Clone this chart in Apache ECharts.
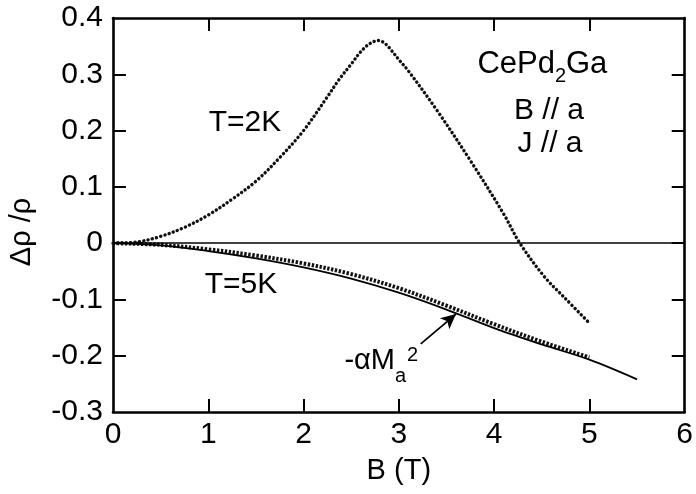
<!DOCTYPE html>
<html>
<head>
    <meta charset="utf-8">
    <title>CePd2Ga magnetoresistance</title>
    <script src="https://cdn.jsdelivr.net/npm/echarts@6/dist/echarts.min.js"></script>
</head>
<body style="margin:0;background:#fff;">
    <div id="main" style="width:696px;height:494px;"></div>
    <script>
        // T = 2K, dotted curve  [B (T), drho/rho]
        var curve2K = [
            [0, 0], [0.25, 0.002], [0.5, 0.012], [0.75, 0.028], [1, 0.05],
            [1.25, 0.078], [1.5, 0.11], [1.75, 0.152], [2, 0.2], [2.25, 0.26],
            [2.37, 0.29], [2.5, 0.318], [2.6, 0.34], [2.7, 0.355], [2.79, 0.36],
            [2.86, 0.354], [2.92, 0.343], [3, 0.326], [3.1, 0.306], [3.4, 0.236],
            [3.75, 0.147], [4.1, 0.052], [4.27, 0.0], [4.53, -0.06], [4.74, -0.097],
            [5, -0.142]
        ];
        // T = 5K, triangles
        var curve5K = [
            [0, 0], [0.5, -0.003], [1, -0.011], [1.5, -0.022], [2, -0.036],
            [2.5, -0.055], [3, -0.080], [3.5, -0.111], [4, -0.144], [4.5, -0.175],
            [5, -0.203]
        ];
        // -alpha * Ma^2, solid line
        var curveMa2 = [
            [0, 0], [0.5, -0.004], [1, -0.014], [1.5, -0.027], [2, -0.043],
            [2.5, -0.063], [3, -0.088], [3.5, -0.118], [4, -0.151], [4.5, -0.180],
            [5, -0.207], [5.5, -0.242]
        ];
        var arrowTail = [3.23, -0.179];
        var arrowHead = [3.6, -0.126];
        var xTicks = [0, 1, 2, 3, 4, 5, 6];
        var yTicks = [-0.3, -0.2, -0.1, 0, 0.1, 0.2, 0.3, 0.4];

        var FONT = '"Liberation Sans", Arial, Helvetica, sans-serif';
        var GRID = { left: 113, right: 8, top: 18, bottom: 82 };
        var W = 696, H = 494, TICK_LEN = 13;
        var chartDom = document.getElementById('main');
        var myChart = echarts.init(chartDom);
        var option;

        var xMin = xTicks[0], xMax = xTicks[xTicks.length - 1];
        var yMin = yTicks[0], yMax = yTicks[yTicks.length - 1];
        // tick length expressed in axis units so the axes place the ticks
        var dx = (xMax - xMin) * TICK_LEN / (W - GRID.left - GRID.right);
        var dy = (yMax - yMin) * TICK_LEN / (H - GRID.top - GRID.bottom);

        function tickFmt(v) {
            if (Math.abs(v) < 1e-9) return '0';
            return (Math.round(v * 10) / 10).toFixed(1);
        }

        function boxLine() {
            return { show: true, onZero: false, lineStyle: { color: '#000', width: 2.6 } };
        }

        // inward ticks on all four sides, as short mark lines
        var tickStyle = { color: '#000', width: 2, type: 'solid' };
        var tickLines = [];
        xTicks.slice(1, -1).forEach(function (v) {
            tickLines.push([{ coord: [v, yMin], lineStyle: tickStyle }, { coord: [v, yMin + dy] }]);
            tickLines.push([{ coord: [v, yMax], lineStyle: tickStyle }, { coord: [v, yMax - dy] }]);
        });
        yTicks.slice(1, -1).forEach(function (v) {
            tickLines.push([{ coord: [xMin, v], lineStyle: tickStyle }, { coord: [xMin + dx, v] }]);
            tickLines.push([{ coord: [xMax, v], lineStyle: tickStyle }, { coord: [xMax - dx, v] }]);
        });

        option = {
            animation: false,
            grid: GRID,
            xAxis: [
                {
                    type: 'value', min: xMin, max: xMax, interval: 1,
                    position: 'bottom',
                    name: 'B (T)', nameLocation: 'middle', nameGap: 44,
                    nameTextStyle: { color: '#000', fontSize: 29, fontFamily: FONT },
                    axisLine: boxLine(), axisTick: { show: false }, splitLine: { show: false },
                    axisLabel: { show: true, color: '#000', fontSize: 30, fontFamily: FONT, margin: 8 }
                },
                {
                    type: 'value', min: xMin, max: xMax, interval: 1,
                    position: 'top',
                    axisLine: boxLine(), axisTick: { show: false }, splitLine: { show: false },
                    axisLabel: { show: false }
                }
            ],
            yAxis: [
                {
                    type: 'value', min: yMin, max: yMax, interval: 0.1,
                    position: 'left',
                    axisLine: boxLine(), axisTick: { show: false }, splitLine: { show: false },
                    axisLabel: { show: true, color: '#000', fontSize: 30, fontFamily: FONT, margin: 10, formatter: tickFmt }
                },
                {
                    type: 'value', min: yMin, max: yMax, interval: 0.1,
                    position: 'right',
                    axisLine: boxLine(), axisTick: { show: false }, splitLine: { show: false },
                    axisLabel: { show: false }
                }
            ],
            series: [
                {
                    name: 'T=2K', type: 'line', data: curve2K, smooth: 0.35,
                    showSymbol: false, silent: true,
                    lineStyle: { color: '#111', width: 3.4, type: [0.1, 4.3], cap: 'round' },
                    markLine: {
                        silent: true, symbol: 'none', animation: false,
                        label: { show: false },
                        lineStyle: { color: '#000', width: 1.5, type: 'solid' },
                        data: [{ yAxis: 0 }].concat(tickLines)
                    }
                },
                {
                    name: 'T=5K', type: 'line', data: curve5K, smooth: 0.35,
                    showSymbol: false, silent: true,
                    lineStyle: { color: '#111', width: 4, type: [2.4, 1.6] }
                },
                {
                    name: '-aMa2', type: 'line', data: curveMa2, smooth: 0.35,
                    showSymbol: false, silent: true,
                    lineStyle: { color: '#000', width: 1.8 },
                    markLine: {
                        silent: true, animation: false,
                        symbol: ['none', 'arrow'], symbolSize: [11, 15],
                        label: { show: false },
                        lineStyle: { color: '#000', width: 1.8, type: 'solid' },
                        data: [[{ coord: arrowTail }, { coord: arrowHead }]]
                    }
                }
            ],
            graphic: [
                { type: 'text', x: 245, y: 123, style: { text: 'T=2K', font: '30px ' + FONT, fill: '#000', align: 'center', verticalAlign: 'middle' } },
                { type: 'text', x: 241, y: 285, style: { text: 'T=5K', font: '30px ' + FONT, fill: '#000', align: 'center', verticalAlign: 'middle' } },
                { type: 'text', x: 555, y: 64, style: { text: 'CePd', font: '31px ' + FONT, fill: '#000', align: 'right', verticalAlign: 'middle' } },
                { type: 'text', x: 555, y: 76, style: { text: '2', font: '20px ' + FONT, fill: '#000', align: 'left', verticalAlign: 'middle' } },
                { type: 'text', x: 566, y: 64, style: { text: 'Ga', font: '31px ' + FONT, fill: '#000', align: 'left', verticalAlign: 'middle' } },
                { type: 'text', x: 549, y: 111, style: { text: 'B // a', font: '30px ' + FONT, fill: '#000', align: 'center', verticalAlign: 'middle' } },
                { type: 'text', x: 550, y: 144, style: { text: 'J // a', font: '30px ' + FONT, fill: '#000', align: 'center', verticalAlign: 'middle' } },
                { type: 'text', x: 395, y: 361, style: { text: '-\u03b1M', font: '29px ' + FONT, fill: '#000', align: 'right', verticalAlign: 'middle' } },
                { type: 'text', x: 395, y: 376, style: { text: 'a', font: '20px ' + FONT, fill: '#000', align: 'left', verticalAlign: 'middle' } },
                { type: 'text', x: 407, y: 355, style: { text: '2', font: '20px ' + FONT, fill: '#000', align: 'left', verticalAlign: 'middle' } },
                { type: 'text', x: 22, y: 232, rotation: Math.PI / 2, style: { text: '\u0394\u03c1 /\u03c1', font: '29px ' + FONT, fill: '#000', align: 'center', verticalAlign: 'middle' } }
            ]
        };

        option && myChart.setOption(option);
    </script>
</body>
</html>
